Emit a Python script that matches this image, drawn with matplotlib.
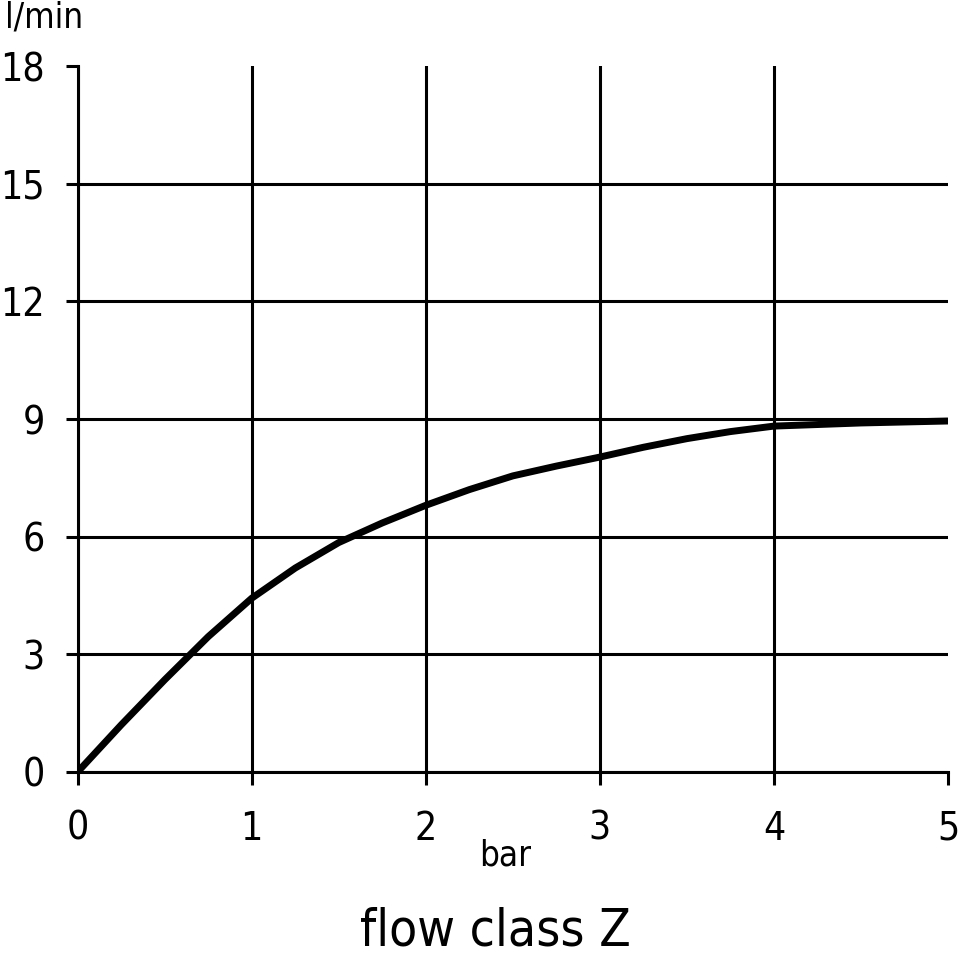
import numpy as np
import matplotlib
matplotlib.use("Agg")
import matplotlib.pyplot as plt

plt.rcParams['font.family'] = ['DejaVu Sans']
plt.rcParams['font.stretch'] = 'condensed'

# pressure (bar) vs flow (l/min)
pressao = [0, 0.25, 0.5, 0.75, 1.0, 1.25, 1.5, 1.75, 2.0, 2.25, 2.5,
           2.75, 3.0, 3.25, 3.5, 3.75, 4.0, 4.5, 5.0]
vazao = [0, 1.2, 2.35, 3.45, 4.43, 5.2, 5.85, 6.35, 6.8, 7.2, 7.55,
         7.8, 8.03, 8.28, 8.5, 8.68, 8.82, 8.9, 8.95]

x_ticks = [0, 1, 2, 3, 4, 5]
y_ticks = [0, 3, 6, 9, 12, 15, 18]

fig = plt.figure(figsize=(9.6, 9.6), dpi=100)
ax = fig.add_axes([0.081, 0.196, 0.9065, 0.735])

ax.plot(pressao, vazao, color='black', linewidth=5, solid_capstyle='butt', zorder=3)

ax.set_xlim(0, 5)
ax.set_ylim(0, 18)
ax.set_xticks(x_ticks)
ax.set_yticks(y_ticks)

# grade preta, sem a linha do topo (18) e da direita (5)
ax.grid(True, color='black', linewidth=2.2)
ax.xaxis.get_gridlines()[-1].set_visible(False)
ax.yaxis.get_gridlines()[-1].set_visible(False)

for lado in ['top', 'right']:
    ax.spines[lado].set_visible(False)
for lado in ['left', 'bottom']:
    ax.spines[lado].set_linewidth(2.2)

ax.tick_params(axis='y', length=8.6, width=2.2, pad=15, labelsize=28)
ax.tick_params(axis='x', length=9.4, width=2.2, pad=18, labelsize=28)

fig.text(0.005, 0.982, 'l/min', fontsize=25, ha='left', va='center')
fig.text(0.526, 0.109, 'bar', fontsize=25, ha='center', va='center')
fig.text(0.516, 0.004, 'flow class Z', fontsize=37, ha='center', va='bottom')

fig.savefig('out.png', dpi=100, facecolor='white')
